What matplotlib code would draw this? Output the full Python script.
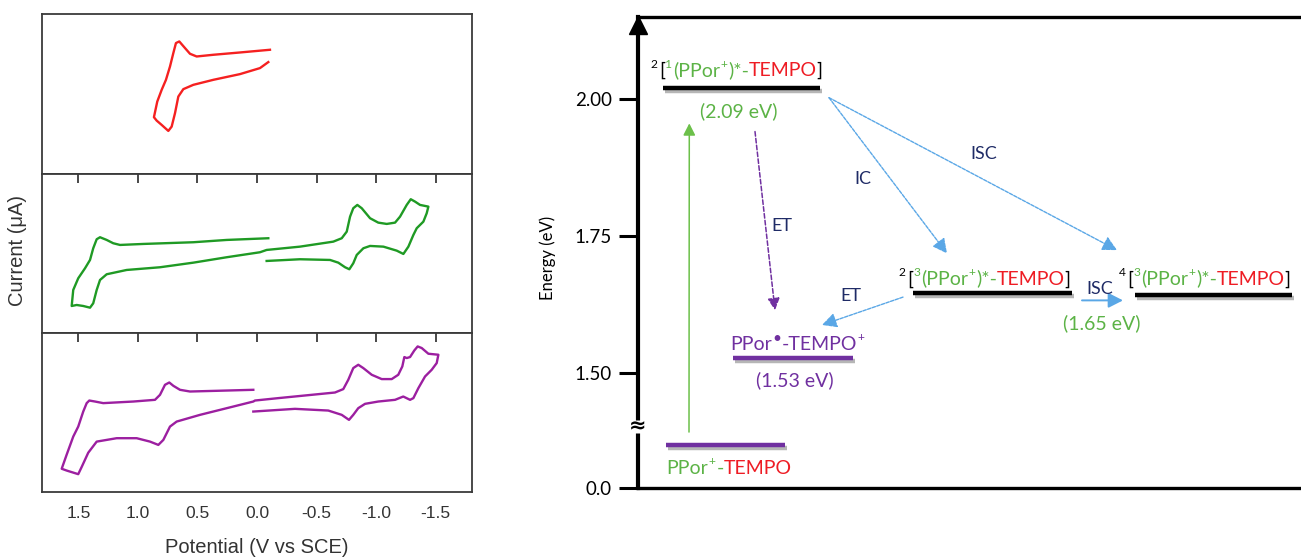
import matplotlib

matplotlib.use("Agg")
import matplotlib.pyplot as plt
import matplotlib.patheffects as pe
from matplotlib.transforms import offset_copy

# ---------------------------------------------------------------------------
# CV traces (E in V vs SCE, current in panel units)
# ---------------------------------------------------------------------------
red_E = [-0.109, 0.143, 0.367, 0.507, 0.563, 0.605, 0.653, 0.681, 0.703,
         0.731, 0.765, 0.801, 0.838, 0.866, 0.843, 0.801, 0.745, 0.717,
         0.689, 0.661, 0.619, 0.535, 0.367, 0.143, -0.025, -0.095]
red_I = [12.36, 12.09, 11.86, 11.69, 11.96, 12.53, 13.19, 13.03, 12.03,
         10.69, 9.36, 8.36, 7.19, 5.63, 5.29, 4.86, 4.26, 4.69,
         6.03, 7.69, 8.43, 8.86, 9.36, 9.93, 10.53, 11.13]

green_E = [-0.095, 0.255, 0.535, 0.955, 1.151, 1.208, 1.263, 1.319, 1.347,
           1.376, 1.403, 1.445, 1.502, 1.544, 1.557,
           1.515, 1.460, 1.403, 1.376, 1.347, 1.319, 1.263, 1.095, 0.815,
           0.535, 0.255, -0.025, -0.081,
           -0.361, -0.641, -0.712, -0.754, -0.782, -0.809, -0.843, -0.880,
           -0.950, -1.019, -1.090, -1.160, -1.202, -1.258, -1.292, -1.328,
           -1.370, -1.440,
           -1.426, -1.398, -1.342, -1.314, -1.272, -1.230, -1.174, -1.062,
           -0.950, -0.894, -0.838, -0.809, -0.776, -0.740, -0.683, -0.614,
           -0.361, -0.081]
green_I = [9.44, 9.27, 9.04, 8.87, 8.77, 8.94, 9.27, 9.54, 9.34,
           8.44, 7.27, 6.44, 5.44, 4.27, 2.67,
           2.77, 2.67, 2.50, 2.94, 4.27, 5.27, 5.84, 6.27, 6.54,
           7.00, 7.54, 8.04, 8.27,
           8.60, 9.10, 9.44, 10.10, 11.60, 12.44, 12.77, 12.44,
           11.44, 11.00, 10.87, 11.00, 11.60, 12.77, 13.34, 13.10,
           12.77, 12.60,
           11.94, 11.10, 10.44, 9.77, 8.60, 7.87, 8.20, 8.60,
           8.67, 8.44, 7.77, 6.94, 6.34, 6.54, 7.00, 7.27,
           7.34, 7.17]

purple_E = [0.031, 0.339, 0.563, 0.647, 0.703, 0.737, 0.773, 0.815, 0.857,
            1.039, 1.292, 1.361, 1.409, 1.431, 1.460, 1.502, 1.544, 1.600,
            1.641,
            1.599, 1.502, 1.473, 1.418, 1.347, 1.179, 1.011, 0.899, 0.829,
            0.787, 0.731, 0.675, 0.479, 0.199, 0.031, 0.017,
            -0.179, -0.460, -0.655, -0.725, -0.767, -0.809, -0.851, -0.893,
            -0.964, -1.048, -1.132, -1.187, -1.221, -1.238, -1.258, -1.286,
            -1.322, -1.350, -1.384, -1.440, -1.524,
            -1.510, -1.468, -1.412, -1.356, -1.314, -1.286, -1.229, -1.160,
            -1.019, -0.908, -0.851, -0.809, -0.773, -0.712, -0.599, -0.319,
            0.031]
purple_I = [10.20, 10.10, 10.03, 10.20, 10.60, 10.93, 10.70, 9.70, 9.20,
            9.03, 8.87, 9.03, 9.13, 8.87, 8.03, 6.53, 5.53, 3.70,
            2.32,
            2.14, 1.78, 2.50, 3.92, 5.03, 5.37, 5.37, 5.03, 4.70,
            5.20, 6.53, 7.03, 7.70, 8.53, 9.03, 9.13,
            9.37, 9.70, 9.93, 10.27, 11.20, 12.37, 12.70, 12.37,
            11.70, 11.27, 11.27, 11.70, 12.53, 13.47, 13.37, 13.47,
            14.13, 14.53, 14.37, 13.80, 13.70,
            12.87, 12.20, 11.53, 10.37, 9.37, 9.20, 9.53, 9.20,
            9.03, 8.80, 8.37, 7.70, 7.20, 7.70, 8.13, 8.30,
            8.03]

cv_ticks = [1.5, 1.0, 0.5, 0.0, -0.5, -1.0, -1.5]
cv_tick_labels = ["1.5", "1.0", "0.5", "0.0", "-0.5", "-1.0", "-1.5"]

# ---------------------------------------------------------------------------
# Energy diagram (schematic: x in arbitrary units, y in displayed eV)
# ---------------------------------------------------------------------------
level_x0 = [2.5, 27.5, 49.7, 9.5, 2.8]
level_x1 = [18.2, 43.4, 65.4, 21.5, 14.7]
level_y = [2.020, 1.645, 1.642, 1.526, 1.367]
energy_ticks = [2.00, 1.75, 1.50, 1.2886]
energy_tick_labels = ["2.00", "1.75", "1.50", "0.0"]
break_y = 1.401

# arrows: start, end, kind
arrow_start = [(5.1, 1.391), (11.7, 1.941), (19.1, 2.003), (19.1, 2.003),
               (26.5, 1.638), (44.4, 1.632)]
arrow_end = [(5.13, 1.956), (13.7, 1.614), (30.9, 1.718), (47.9, 1.724),
             (18.4, 1.587), (48.5, 1.632)]
arrow_kind = ["green", "purple", "blue", "blue", "blue", "blue_solid"]

proc_labels = ["IC", "ISC", "ET", "ET", "ISC"]
proc_xy = [(22.5, 1.855), (34.6, 1.900), (14.4, 1.768), (21.3, 1.640),
           (46.2, 1.653)]

BLACK = "black"
GREEN_T = "#5cb346"
RED_T = "#ee1c24"
PURP = "#7030a0"
NAVY = "#1f2b66"
BLUE = "#5aa7e6"
FAM = ["Lato", "DejaVu Sans"]

plt.rcParams.update({
    "font.family": ["Liberation Sans", "DejaVu Sans"],
    "axes.unicode_minus": False,
})

fig = plt.figure(figsize=(13.01, 5.59), dpi=100)

# ---------------------------------------------------------------------------
# left: three stacked CV panels
# ---------------------------------------------------------------------------
W, H = 1301.0, 559.0
left, right = 41.7 / W, 471.7 / W
bounds = [(14.3, 173.6), (173.6, 332.7), (332.7, 492.0)]
traces = [(red_E, red_I, "#f52020"), (green_E, green_I, "#1f9a24"),
          (purple_E, purple_I, "#9c1fa0")]
cv_axes = []
for (top, bot), (E, I, col) in zip(bounds, traces):
    ax = fig.add_axes([left, (H - bot) / H, right - left, (bot - top) / H])
    ax.plot(E, I, color=col, lw=1.7, solid_joinstyle="round")
    ax.set_xlim(1.809, -1.804)
    ax.set_ylim(0, 15.9)
    ax.set_yticks([])
    for s in ax.spines.values():
        s.set_color("#3a3a3a")
        s.set_linewidth(1.3)
    ax.set_xticks(cv_ticks)
    cv_axes.append(ax)

cv_axes[0].tick_params(axis="x", length=0, labelbottom=False)
for ax in cv_axes[1:]:
    ax.tick_params(axis="x", top=True, bottom=False, direction="in",
                   length=6.5, width=1.3, color="#3a3a3a", labelbottom=False)
cv_axes[2].tick_params(axis="x", labelbottom=True, pad=10, labelsize=12.5,
                       labelcolor="#333333")
cv_axes[2].set_xticklabels(cv_tick_labels)
cv_axes[2].set_xlabel("Potential (V vs SCE)", fontsize=14.5, labelpad=12,
                      color="#333333")
fig.text(18 / W, 1 - 250 / H, "Current (\u03bcA)", rotation=90, fontsize=14.5,
         ha="center", va="center", color="#333333")

# ---------------------------------------------------------------------------
# right: energy diagram
# ---------------------------------------------------------------------------
ex = fig.add_axes([638 / W, (H - 488) / H, (W - 638) / W, (488 - 17) / H])
ex.set_xlim(0, 66.3)
ex.set_ylim(1.2886, 2.1507)
ex.spines["right"].set_visible(False)
ex.spines["left"].set_linewidth(3.0)
ex.spines["bottom"].set_linewidth(2.4)
ex.spines["top"].set_linewidth(2.4)
ex.set_xticks([])
ex.set_yticks(energy_ticks)
ex.set_yticklabels(energy_tick_labels, family=FAM, fontsize=13.5)
ex.tick_params(axis="y", length=14, width=2.2, pad=5)

# arrowhead on the energy axis
tip = offset_copy(ex.transAxes, fig=fig, x=0, y=-8, units="dots")
ex.plot([0], [1], marker="^", markersize=13, color="black",
        transform=tip, clip_on=False)

# axis break: white gap in the spine plus a "≈"
ex.plot([0, 0], [break_y - 0.012, break_y + 0.012], color="white", lw=5,
        solid_capstyle="butt", clip_on=False, zorder=5)
ex.text(0, break_y, "\u2248", ha="center", va="center", fontsize=15,
        family="DejaVu Sans", fontweight="bold", zorder=6, clip_on=False)

fig.text(548 / W, 1 - 258 / H, "Energy (eV)", rotation=90, fontsize=12,
         family=FAM, ha="center", va="center")

shadow = [pe.SimpleLineShadow(offset=(1.5, -2), shadow_color="#7a7a7a",
                              alpha=0.55), pe.Normal()]
level_color = [BLACK, BLACK, BLACK, PURP, PURP]
for x0, x1, y, c in zip(level_x0, level_x1, level_y, level_color):
    ex.plot([x0, x1], [y, y], color=c, lw=3.2, solid_capstyle="butt",
            path_effects=shadow)

styles = {
    "green": dict(color="#6cc04a", lw=1.1, ls="-", ms=13),
    "purple": dict(color=PURP, lw=1.1, ls=(0, (3, 1.5)), ms=13),
    "blue": dict(color=BLUE, lw=1.0, ls=(0, (2.5, 1)), ms=16),
    "blue_solid": dict(color=BLUE, lw=1.4, ls="-", ms=16),
}
for p0, p1, k in zip(arrow_start, arrow_end, arrow_kind):
    st = styles[k]
    ex.annotate("", xy=p1, xytext=p0,
                arrowprops=dict(arrowstyle="-|>,head_length=0.55,head_width=0.28",
                                color=st["color"], lw=st["lw"],
                                linestyle=st["ls"],
                                mutation_scale=st["ms"],
                                shrinkA=0, shrinkB=0))

for s, (x, y) in zip(proc_labels, proc_xy):
    ex.text(x, y, s, color=NAVY, fontsize=13, family=FAM,
            ha="center", va="center")

renderer = fig.canvas.get_renderer()


def rich(ax, x, y, parts, size=14):
    """Coloured pieces on one baseline; pieces flagged True are superscripts."""
    inv = ax.transData.inverted()
    for s, c, sup in parts:
        fs = size * (0.8 if s == "\u2022" else 0.62) if sup else size
        raise_pt = size * (0.32 if s == "\u2022" else 0.42) if sup else 0
        tr = offset_copy(ax.transData, fig=fig, x=0.6 if sup else 0,
                         y=raise_pt, units="points")
        t = ax.text(x, y, s, color=c, fontsize=fs, family=FAM, ha="left",
                    va="baseline", transform=tr)
        x1 = t.get_window_extent(renderer).x1 + (1.2 if sup else -0.6)
        x = inv.transform((x1, 0))[0]


rich(ex, 1.2, 2.0427, [("2", BLACK, True), ("[", BLACK, False),
                        ("1", GREEN_T, True), ("(PPor", GREEN_T, False),
                        ("+", GREEN_T, True), (")*-", GREEN_T, False),
                        ("TEMPO", RED_T, False), ("]", BLACK, False)])
rich(ex, 26.0, 1.661, [("2", BLACK, True), ("[", BLACK, False),
                        ("3", GREEN_T, True), ("(PPor", GREEN_T, False),
                        ("+", GREEN_T, True), (")*-", GREEN_T, False),
                        ("TEMPO", RED_T, False), ("]", BLACK, False)])
rich(ex, 48.0, 1.661, [("4", BLACK, True), ("[", BLACK, False),
                        ("3", GREEN_T, True), ("(PPor", GREEN_T, False),
                        ("+", GREEN_T, True), (")*-", GREEN_T, False),
                        ("TEMPO", RED_T, False), ("]", BLACK, False)])
rich(ex, 9.2, 1.542, [("PPor", PURP, False), ("\u2022", PURP, True),
                      ("-TEMPO", PURP, False), ("+", PURP, True)])
rich(ex, 2.87, 1.315, [("PPor", GREEN_T, False), ("+", GREEN_T, True),
                       ("-", GREEN_T, False), ("TEMPO", RED_T, False)])

ex.text(10.1, 1.978, "(2.09 eV)", color=GREEN_T, fontsize=14, family=FAM,
        ha="center", va="center")
ex.text(46.4, 1.590, "(1.65 eV)", color=GREEN_T, fontsize=14, family=FAM,
        ha="center", va="center")
ex.text(15.65, 1.485, "(1.53 eV)", color=PURP, fontsize=14, family=FAM,
        ha="center", va="center")

fig.savefig("out.png", dpi=100)
